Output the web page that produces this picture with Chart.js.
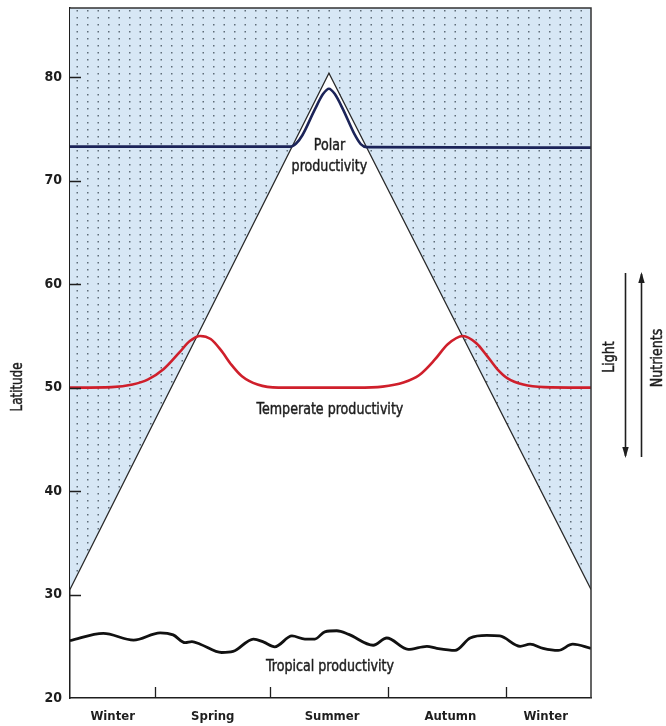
<!DOCTYPE html>
<html>
<head>
<meta charset="utf-8">
<script src="https://cdn.jsdelivr.net/npm/chart.js@4/dist/chart.umd.min.js"></script>
<style>
  html, body { margin: 0; padding: 0; background: #ffffff; }
  canvas { display: block; }
</style>
</head>
<body>
<canvas id="c" width="666" height="726"></canvas>
<script>
// Time of year on the x axis, as percent of the year
const seasonNames = ['Winter', 'Spring', 'Summer', 'Autumn', 'Winter'];
const seasonLabelAt = [8.2, 27.4, 50.3, 73.0, 91.3];
const seasonBoundaries = [16.3, 38.4, 61.0, 83.7];
const latitudeTicks = [20, 30, 40, 50, 60, 70, 80];

// Poleward limit of sufficient light through the year
const lightLimitX = [0, 49.7, 100];
const lightLimitY = [30.5, 80.4, 30.5];

// Polar productivity: a single summer peak
const polarX = [0, 42.3, 43.4, 44.6, 47.0, 48.6, 49.7, 50.8, 52.4, 54.6, 55.8, 57.0, 100];
const polarY = [73.3, 73.3, 73.6, 74.4, 76.9, 78.4, 78.9, 78.4, 76.9, 74.5, 73.55, 73.25, 73.2];

// Temperate productivity: spring and autumn blooms
const temperateX = [0, 8, 12, 15, 18, 21, 23, 25, 27, 29, 31, 33, 36, 40, 55, 60, 64, 67, 70, 72.5, 75.4, 78, 80, 82, 84, 87, 91, 100];
const temperateY = [50, 50.05, 50.3, 50.8, 51.8, 53.4, 54.5, 55, 54.7, 53.6, 52.2, 51.1, 50.3, 50, 50, 50.1, 50.5, 51.2, 52.7, 54.2, 55, 54.3, 53.1, 51.8, 50.9, 50.3, 50.05, 50];

// Tropical productivity: low, with small irregular fluctuations
const tropicalX = [0, 6.4, 12.2, 17.3, 19.8, 22.1, 23.4, 25.0, 29.1, 31.3, 35.2, 37.2, 39.3, 42.6, 45.1, 47.0, 48.9, 51.2, 53.5, 58.2, 60.8, 64.9, 68.5, 70.4, 73.9, 76.8, 80.0, 82.5, 86.4, 88.3, 90.8, 93.7, 96.5, 100];
const tropicalY = [25.55, 26.25, 25.6, 26.3, 26.1, 25.35, 25.45, 25.2, 24.4, 24.5, 25.7, 25.4, 24.95, 26.0, 25.7, 25.7, 26.4, 26.5, 26.15, 25.1, 25.8, 24.7, 25.0, 24.8, 24.6, 25.8, 26.05, 26.0, 25.0, 25.2, 24.8, 24.6, 25.2, 24.8];

const FONT = "'Liberation Sans Narrow', 'DejaVu Sans Condensed', 'Arial Narrow', sans-serif";
const INK = '#1e1e1e';

const pts = (xs, ys) => xs.map((x, i) => ({ x: x, y: ys[i] }));

// Light-blue stippled fill for the light-limited region
function stipple() {
  const c = document.createElement('canvas');
  c.width = 21; c.height = 7;
  const g = c.getContext('2d');
  g.fillStyle = '#d7e7f5';
  g.fillRect(0, 0, 21, 7);
  g.fillStyle = '#5e6c78';
  g.fillRect(3, 3, 1.5, 1.5);
  g.fillRect(13.5, 3, 1.5, 1.5);
  return g.createPattern(c, 'repeat');
}

// Narrow, medium-weight lettering: squeezed horizontally with a light outline
function narrowText(ctx, text, x, y, squeeze, angle) {
  ctx.save();
  ctx.translate(x, y);
  if (angle) ctx.rotate(angle);
  ctx.scale(squeeze, 1);
  ctx.fillText(text, 0, 0);
  ctx.lineWidth = 0.45;
  ctx.strokeStyle = ctx.fillStyle;
  ctx.strokeText(text, 0, 0);
  ctx.restore();
}

const decorations = {
  id: 'decorations',
  afterDraw(chart) {
    const ctx = chart.ctx;
    const a = chart.chartArea;
    const xs = chart.scales.x, ys = chart.scales.y;
    ctx.save();

    // frame: top and right edges
    ctx.strokeStyle = '#333';
    ctx.lineWidth = 1.5;
    ctx.beginPath();
    ctx.moveTo(a.left, a.top); ctx.lineTo(a.right, a.top); ctx.lineTo(a.right, a.bottom);
    ctx.stroke();

    // inward tick marks
    ctx.strokeStyle = INK;
    ctx.lineWidth = 1.3;
    ctx.beginPath();
    seasonBoundaries.forEach(v => {
      const px = Math.round(xs.getPixelForValue(v)) + 0.5;
      ctx.moveTo(px, a.bottom); ctx.lineTo(px, a.bottom - 11);
    });
    latitudeTicks.forEach(v => {
      if (v === ys.min) return;
      const py = Math.round(ys.getPixelForValue(v)) + 0.5;
      ctx.moveTo(a.left, py); ctx.lineTo(a.left + 11, py);
    });
    ctx.stroke();

    // curve labels
    ctx.fillStyle = INK;
    ctx.textAlign = 'center';
    ctx.textBaseline = 'middle';
    ctx.font = '16px ' + FONT;
    const sq = 0.88;
    narrowText(ctx, 'Polar', xs.getPixelForValue(49.8), ys.getPixelForValue(73.36), sq);
    narrowText(ctx, 'productivity', xs.getPixelForValue(49.8), ys.getPixelForValue(71.33), sq);
    narrowText(ctx, 'Temperate productivity', xs.getPixelForValue(49.9), ys.getPixelForValue(47.84), sq);
    narrowText(ctx, 'Tropical productivity', xs.getPixelForValue(49.9), ys.getPixelForValue(23.0), sq);

    // axis title
    ctx.font = '15px ' + FONT;
    narrowText(ctx, 'Latitude', 18, 387, sq, -Math.PI / 2);

    // light and nutrient gradients
    const arrow = (x, y0, y1) => {
      ctx.beginPath();
      ctx.lineWidth = 1.6;
      ctx.strokeStyle = INK;
      ctx.moveTo(x, y0); ctx.lineTo(x, y1);
      ctx.stroke();
      const dir = Math.sign(y1 - y0);
      ctx.beginPath();
      ctx.moveTo(x, y1 + dir * 2);
      ctx.lineTo(x - 3.2, y1 - dir * 9);
      ctx.lineTo(x + 3.2, y1 - dir * 9);
      ctx.closePath();
      ctx.fillStyle = INK;
      ctx.fill();
    };
    arrow(625.5, 273, 456);
    arrow(641.5, 457, 274);

    ctx.font = '16px ' + FONT;
    ctx.fillStyle = INK;
    narrowText(ctx, 'Light', 610, 357, sq, -Math.PI / 2);
    narrowText(ctx, 'Nutrients', 658, 358, sq, -Math.PI / 2);

    ctx.restore();
  }
};

new Chart(document.getElementById('c'), {
  type: 'line',
  data: {
    datasets: [
      {
        label: 'Polar productivity',
        data: pts(polarX, polarY),
        borderColor: '#1c2459',
        borderWidth: 2.6,
        cubicInterpolationMode: 'monotone',
        pointRadius: 0,
        fill: false,
        order: 1
      },
      {
        label: 'Temperate productivity',
        data: pts(temperateX, temperateY),
        borderColor: '#cf1f2b',
        borderWidth: 2.6,
        cubicInterpolationMode: 'monotone',
        pointRadius: 0,
        fill: false,
        order: 1
      },
      {
        label: 'Tropical productivity',
        data: pts(tropicalX, tropicalY),
        borderColor: '#111111',
        borderWidth: 2.8,
        cubicInterpolationMode: 'monotone',
        pointRadius: 0,
        fill: false,
        order: 1
      },
      {
        label: 'Light limit',
        data: pts(lightLimitX, lightLimitY),
        borderColor: '#2a2a2a',
        borderWidth: 1.2,
        tension: 0,
        pointRadius: 0,
        fill: 'end',
        backgroundColor: stipple(),
        order: 10
      }
    ]
  },
  options: {
    responsive: false,
    animation: false,
    devicePixelRatio: 1,
    layout: { padding: { top: 8, right: 75, left: 0, bottom: 0 } },
    plugins: {
      legend: { display: false },
      tooltip: { enabled: false },
      title: { display: false }
    },
    scales: {
      x: {
        type: 'linear',
        min: 0,
        max: 100,
        afterBuildTicks: s => { s.ticks = seasonLabelAt.map(v => ({ value: v })); },
        afterFit: s => { s.height = 28; s.paddingLeft = 0; s.paddingRight = 0; },
        grid: { display: false, drawTicks: false },
        border: { display: true, color: INK, width: 1.5 },
        ticks: {
          autoSkip: false,
          maxRotation: 0,
          padding: 11,
          color: INK,
          font: { family: FONT, size: 13, weight: 'bold' },
          callback: (v, i) => seasonNames[i]
        }
      },
      y: {
        type: 'linear',
        min: 20,
        max: 86.7,
        afterBuildTicks: s => { s.ticks = latitudeTicks.map(v => ({ value: v })); },
        afterFit: s => { s.width = 70; s.paddingTop = 0; s.paddingBottom = 0; },
        grid: { display: false, drawTicks: false },
        border: { display: true, color: INK, width: 1.5 },
        ticks: {
          padding: 8,
          color: INK,
          font: { family: FONT, size: 14, weight: 'bold' }
        }
      }
    }
  },
  plugins: [decorations]
});
</script>
</body>
</html>
